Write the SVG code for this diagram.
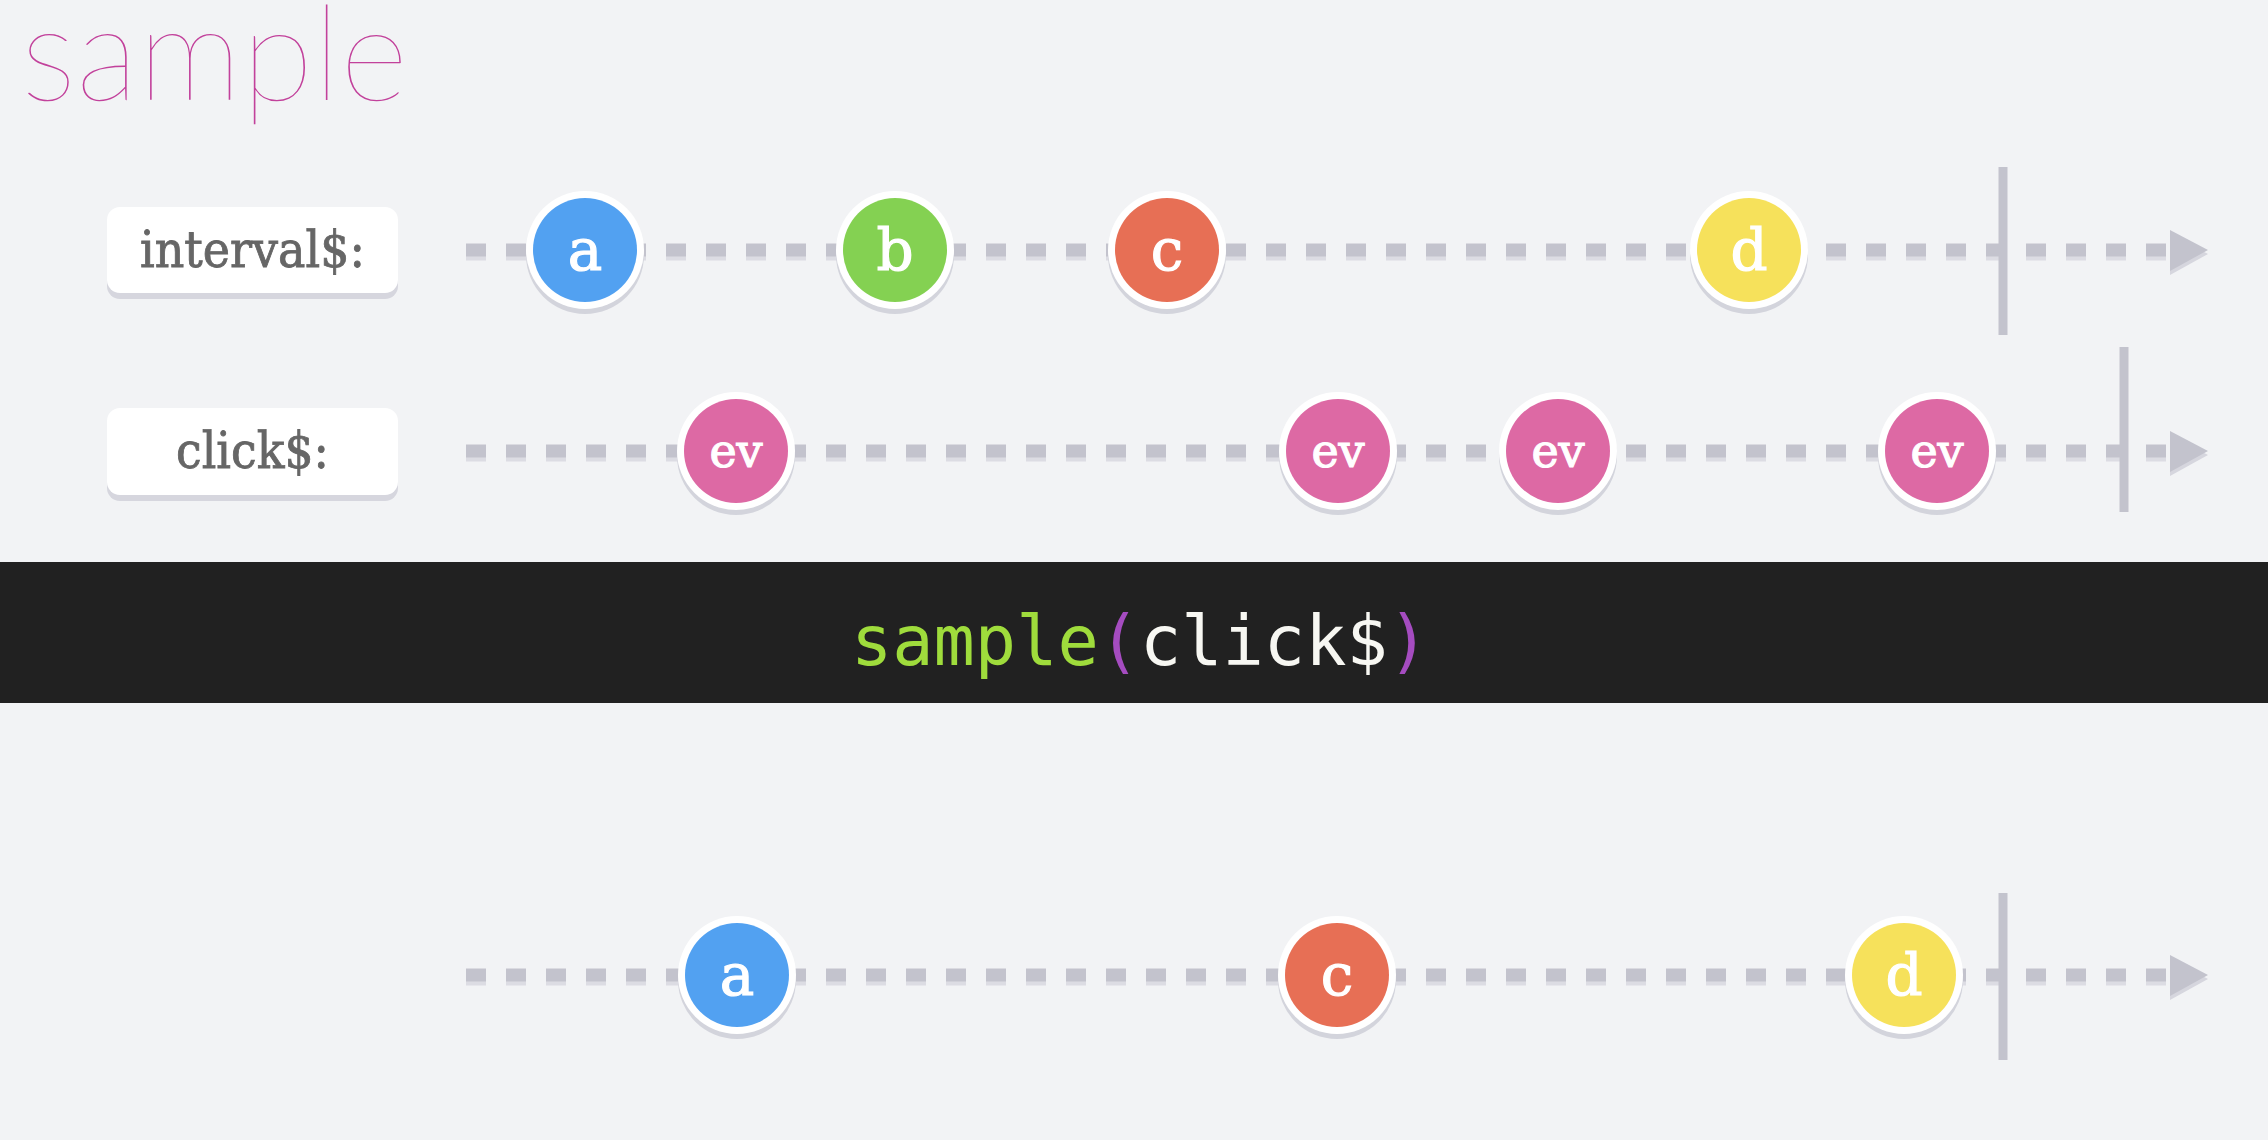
<svg xmlns="http://www.w3.org/2000/svg" width="2268" height="1140" viewBox="0 0 2268 1140">
<style>
.lbl{fill:#fff}
.lblsh{fill:#d6d6de}
.lbltxt{font-family:"DejaVu Serif","Liberation Serif",serif;font-size:51px;fill:#666;stroke:#666;stroke-width:0.9;text-anchor:middle}
.dash{stroke:#c3c3cd;stroke-width:13;stroke-dasharray:20 20;fill:none}
.dashsh{stroke:#dcdce3;stroke-width:13;stroke-dasharray:20 20;fill:none}
.bar{stroke:#c3c3cd;stroke-width:9}
.arrow{fill:#c3c3cd}
.msh{fill:#d3d4dc}
.ring{fill:#fff}
.mtxt{font-family:"DejaVu Serif","Liberation Serif",serif;fill:#fff;stroke:#fff;stroke-width:1.2;text-anchor:middle}
.one{font-size:58px}
.ev{font-size:46px}
</style>
<rect x="0" y="0" width="2268" height="1140" fill="#f2f3f5"/>
<text x="21" y="100" font-family="Lato, Inter, 'Liberation Sans', sans-serif" font-weight="200" font-size="132" fill="#c2419b" textLength="387" lengthAdjust="spacingAndGlyphs">sample</text>

<g id="label-interval">
<rect class="lblsh" x="107" y="213" width="291" height="86" rx="13"/>
<rect class="lbl" x="107" y="207" width="291" height="86" rx="13"/>
<text class="lbltxt" x="252.5" y="267" textLength="225" lengthAdjust="spacingAndGlyphs">interval$:</text>
</g>
<g id="label-click">
<rect class="lblsh" x="107" y="414" width="291" height="87" rx="13"/>
<rect class="lbl" x="107" y="408" width="291" height="87" rx="13"/>
<text class="lbltxt" x="252.5" y="468" textLength="153" lengthAdjust="spacingAndGlyphs">click$:</text>
</g>

<g id="connectors">
<line class="dashsh" x1="466" y1="254" x2="2170" y2="254"/>
<line class="dash" x1="466" y1="250" x2="2170" y2="250"/>
<polygon fill="#d6d6de" points="2170,234 2208,254 2170,275"/>
<polygon class="arrow" points="2170,230 2208,250 2170,271"/>
<line class="bar" x1="2003" y1="167" x2="2003" y2="335"/>

<line class="dashsh" x1="466" y1="455" x2="2170" y2="455"/>
<line class="dash" x1="466" y1="451" x2="2170" y2="451"/>
<polygon fill="#d6d6de" points="2170,435 2208,455 2170,476"/>
<polygon class="arrow" points="2170,431 2208,451 2170,472"/>
<line class="bar" x1="2124" y1="347" x2="2124" y2="512"/>

<line class="dashsh" x1="466" y1="979" x2="2170" y2="979"/>
<line class="dash" x1="466" y1="975" x2="2170" y2="975"/>
<polygon fill="#d6d6de" points="2170,959 2208,979 2170,1000"/>
<polygon class="arrow" points="2170,955 2208,975 2170,996"/>
<line class="bar" x1="2003" y1="893" x2="2003" y2="1060"/>
</g>

<g id="i-a"><circle class="msh" cx="585" cy="255" r="59"/><circle class="ring" cx="585" cy="250" r="59"/><circle cx="585" cy="250" r="52" fill="#52a1f1"/><text class="mtxt one" x="585" y="270">a</text></g>
<g id="i-b"><circle class="msh" cx="895" cy="255" r="59"/><circle class="ring" cx="895" cy="250" r="59"/><circle cx="895" cy="250" r="52" fill="#84d152"/><text class="mtxt one" x="895" y="270">b</text></g>
<g id="i-c"><circle class="msh" cx="1167" cy="255" r="59"/><circle class="ring" cx="1167" cy="250" r="59"/><circle cx="1167" cy="250" r="52" fill="#e76f55"/><text class="mtxt one" x="1167" y="270">c</text></g>
<g id="i-d"><circle class="msh" cx="1749" cy="255" r="59"/><circle class="ring" cx="1749" cy="250" r="59"/><circle cx="1749" cy="250" r="52" fill="#f6e15b"/><text class="mtxt one" x="1749" y="270">d</text></g>

<g id="c-ev1"><circle class="msh" cx="736" cy="456" r="59"/><circle class="ring" cx="736" cy="451" r="59"/><circle cx="736" cy="451" r="52" fill="#dd69a4"/><text class="mtxt ev" x="736" y="467">ev</text></g>
<g id="c-ev2"><circle class="msh" cx="1338" cy="456" r="59"/><circle class="ring" cx="1338" cy="451" r="59"/><circle cx="1338" cy="451" r="52" fill="#dd69a4"/><text class="mtxt ev" x="1338" y="467">ev</text></g>
<g id="c-ev3"><circle class="msh" cx="1558" cy="456" r="59"/><circle class="ring" cx="1558" cy="451" r="59"/><circle cx="1558" cy="451" r="52" fill="#dd69a4"/><text class="mtxt ev" x="1558" y="467">ev</text></g>
<g id="c-ev4"><circle class="msh" cx="1937" cy="456" r="59"/><circle class="ring" cx="1937" cy="451" r="59"/><circle cx="1937" cy="451" r="52" fill="#dd69a4"/><text class="mtxt ev" x="1937" y="467">ev</text></g>

<g id="operator">
<rect x="0" y="562" width="2268" height="141" fill="#212121"/>
<text x="851" y="665" font-family="'DejaVu Sans Mono','Liberation Mono',monospace" font-size="69" textLength="578" lengthAdjust="spacingAndGlyphs"><tspan fill="#9fdc3c">sample</tspan><tspan fill="#a54cc0">(</tspan><tspan fill="#f7f7f2">click$</tspan><tspan fill="#a54cc0">)</tspan></text>
</g>

<g id="o-a"><circle class="msh" cx="737" cy="980" r="59"/><circle class="ring" cx="737" cy="975" r="59"/><circle cx="737" cy="975" r="52" fill="#52a1f1"/><text class="mtxt one" x="737" y="995">a</text></g>
<g id="o-c"><circle class="msh" cx="1337" cy="980" r="59"/><circle class="ring" cx="1337" cy="975" r="59"/><circle cx="1337" cy="975" r="52" fill="#e76f55"/><text class="mtxt one" x="1337" y="995">c</text></g>
<g id="o-d"><circle class="msh" cx="1904" cy="980" r="59"/><circle class="ring" cx="1904" cy="975" r="59"/><circle cx="1904" cy="975" r="52" fill="#f6e15b"/><text class="mtxt one" x="1904" y="995">d</text></g>
</svg>
